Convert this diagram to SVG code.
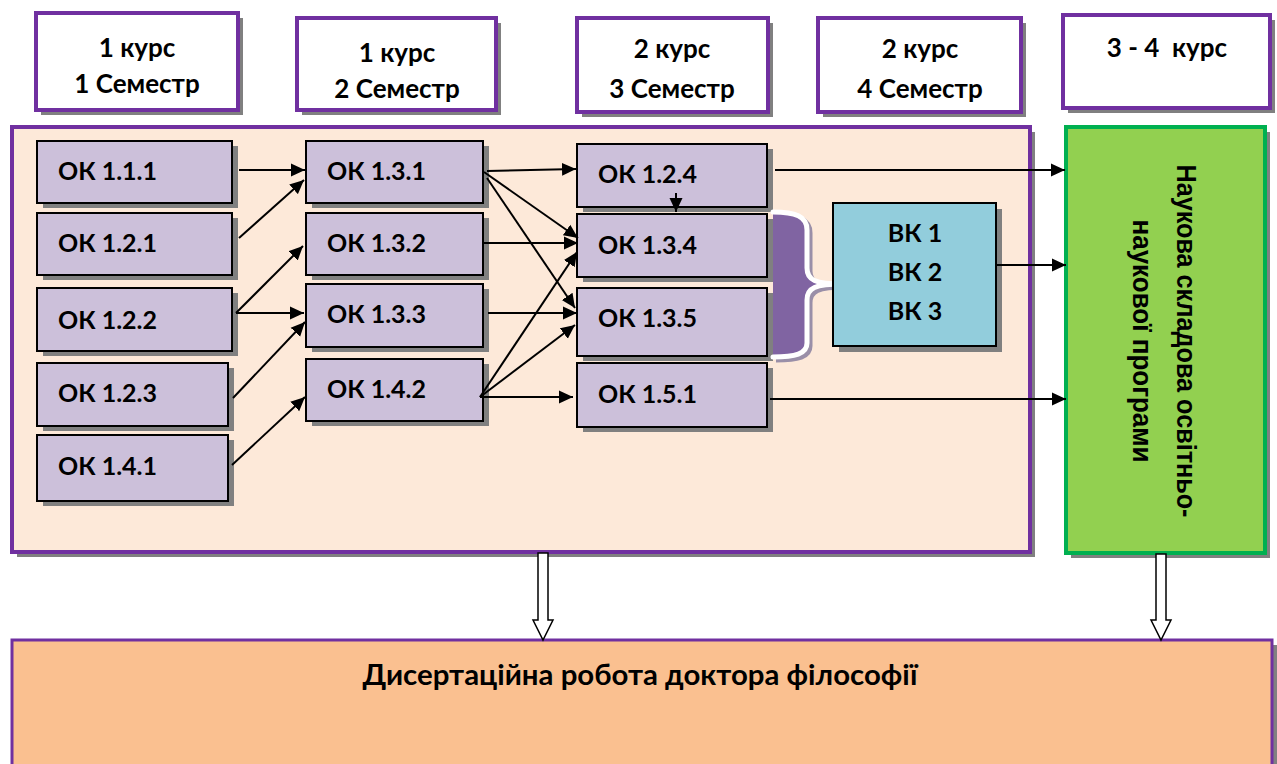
<svg xmlns="http://www.w3.org/2000/svg" width="1277" height="764" viewBox="0 0 1277 764">
<defs>
<style>
.sh{fill:#808080}
.hdr{fill:#ffffff;stroke:#7030A0;stroke-width:4}
.nd{fill:#CCC0DA;stroke:#000;stroke-width:2}
.t{font-family:Lato,"Liberation Sans",sans-serif;font-weight:bold;font-size:25px;fill:#000}
.th{font-size:26px}
.tc{text-anchor:middle}
.c{stroke:#000;stroke-width:2;fill:none;marker-end:url(#ah)}
.hollow{fill:#fff;stroke:#000;stroke-width:1.5}
</style>
<marker id="ah" markerUnits="userSpaceOnUse" markerWidth="15" markerHeight="14" refX="14" refY="7" orient="auto">
<path d="M0,0.5 L14,7 L0,13.5 z" fill="#000"/>
</marker>
</defs>
<rect width="1277" height="764" fill="#fff"/>

<g id="hdr1">
<rect class="sh" x="41" y="18" width="202" height="97"/>
<rect class="hdr" x="36" y="13" width="202" height="97"/>
<text class="t th tc" x="137" y="57">1 курс</text>
<text class="t th tc" x="137" y="93">1 Семестр</text>
</g>
<g id="hdr2">
<rect class="sh" x="302" y="23" width="199" height="92"/>
<rect class="hdr" x="297" y="18" width="199" height="92"/>
<text class="t th tc" x="397" y="62">1 курс</text>
<text class="t th tc" x="397" y="98">2 Семестр</text>
</g>
<g id="hdr3">
<rect class="sh" x="582" y="23" width="191" height="94"/>
<rect class="hdr" x="577" y="18" width="191" height="94"/>
<text class="t th tc" x="672" y="58">2 курс</text>
<text class="t th tc" x="672" y="98">3 Семестр</text>
</g>
<g id="hdr4">
<rect class="sh" x="823" y="23" width="203" height="94"/>
<rect class="hdr" x="818" y="18" width="203" height="94"/>
<text class="t th tc" x="920" y="58">2 курс</text>
<text class="t th tc" x="920" y="98">4 Семестр</text>
</g>
<g id="hdr5">
<rect class="sh" x="1068" y="20" width="207" height="93"/>
<rect class="hdr" x="1063" y="15" width="207" height="93"/>
<text class="t th tc" x="1167" y="57" xml:space="preserve">3 - 4  курс</text>
</g>

<g id="panel">
<rect class="sh" x="17" y="132" width="1018" height="425"/>
<rect x="12" y="127" width="1018" height="425" fill="#FDE9D9" stroke="#7030A0" stroke-width="4"/>
</g>

<g id="green">
<rect class="sh" x="1071" y="132" width="199" height="426"/>
<rect x="1066" y="127" width="199" height="426" fill="#92D050" stroke="#00B050" stroke-width="4"/>
<text transform="translate(1177,341) rotate(90)" text-anchor="middle" font-family="'Liberation Sans',Arial,sans-serif" font-weight="bold" font-size="27" textLength="353" lengthAdjust="spacingAndGlyphs">Наукова складова освітньо-</text>
<text transform="translate(1133,341) rotate(90)" text-anchor="middle" font-family="'Liberation Sans',Arial,sans-serif" font-weight="bold" font-size="27" textLength="243" lengthAdjust="spacingAndGlyphs">наукової програми</text>
</g>

<g id="ok111"><rect class="sh" x="43" y="146" width="195" height="62"/><rect class="nd" x="37" y="141" width="195" height="62"/><text class="t" x="58" y="180">ОК 1.1.1</text></g>
<g id="ok121"><rect class="sh" x="43" y="218" width="195" height="62"/><rect class="nd" x="37" y="213" width="195" height="62"/><text class="t" x="58" y="252">ОК 1.2.1</text></g>
<g id="ok122"><rect class="sh" x="43" y="293" width="195" height="63"/><rect class="nd" x="37" y="288" width="195" height="63"/><text class="t" x="58" y="329">ОК 1.2.2</text></g>
<g id="ok123"><rect class="sh" x="43" y="368" width="191" height="63"/><rect class="nd" x="37" y="363" width="191" height="63"/><text class="t" x="58" y="402">ОК 1.2.3</text></g>
<g id="ok141"><rect class="sh" x="43" y="440" width="191" height="66"/><rect class="nd" x="37" y="435" width="191" height="66"/><text class="t" x="58" y="475">ОК 1.4.1</text></g>

<g id="ok131"><rect class="sh" x="312" y="146" width="177" height="62"/><rect class="nd" x="306" y="141" width="177" height="62"/><text class="t" x="327" y="180">ОК 1.3.1</text></g>
<g id="ok132"><rect class="sh" x="312" y="218" width="177" height="62"/><rect class="nd" x="306" y="213" width="177" height="62"/><text class="t" x="327" y="252">ОК 1.3.2</text></g>
<g id="ok133"><rect class="sh" x="312" y="289" width="177" height="63"/><rect class="nd" x="306" y="284" width="177" height="63"/><text class="t" x="327" y="323">ОК 1.3.3</text></g>
<g id="ok142"><rect class="sh" x="312" y="364" width="177" height="62"/><rect class="nd" x="306" y="359" width="177" height="62"/><text class="t" x="327" y="398">ОК 1.4.2</text></g>

<g id="ok124"><rect class="sh" x="583" y="149" width="190" height="63"/><rect class="nd" x="577" y="144" width="190" height="63"/><text class="t" x="598" y="183">ОК 1.2.4</text></g>
<g id="ok134"><rect class="sh" x="583" y="219" width="190" height="63"/><rect class="nd" x="577" y="214" width="190" height="63"/><text class="t" x="598" y="254">ОК 1.3.4</text></g>
<g id="ok135"><rect class="sh" x="583" y="293" width="190" height="68"/><rect class="nd" x="577" y="288" width="190" height="68"/><text class="t" x="598" y="327">ОК 1.3.5</text></g>
<g id="ok151"><rect class="sh" x="583" y="368" width="190" height="64"/><rect class="nd" x="577" y="363" width="190" height="64"/><text class="t" x="598" y="403">ОК 1.5.1</text></g>

<g id="brace">
<path d="M776,215 C798,215 810,219 810,233 L810,271 C810,283 818,287 846,287 C818,287 810,291 810,303 L810,346 C810,357 798,360 776,360" fill="none" stroke="#9a8fa8" stroke-width="5"/>
<path d="M773,212 C795,212 807,216 807,230 L807,268 C807,280 815,284 843,284 C815,284 807,288 807,300 L807,343 C807,354 795,357 773,357 Z" fill="#8064A2"/>
<path d="M773,212 C795,212 807,216 807,230 L807,268 C807,280 815,284 843,284 C815,284 807,288 807,300 L807,343 C807,354 795,357 773,357" fill="none" stroke="#fff" stroke-width="5" stroke-linecap="round"/>
</g>

<g id="vk">
<rect class="sh" x="839" y="209" width="163" height="143"/>
<rect x="833" y="203" width="163" height="143" fill="#92CDDC" stroke="#000" stroke-width="2"/>
<text class="t tc" x="915" y="242">ВК 1</text>
<text class="t tc" x="915" y="281">ВК 2</text>
<text class="t tc" x="915" y="320">ВК 3</text>
</g>

<g id="bottom">
<rect class="sh" x="17" y="645" width="1260" height="130"/>
<rect x="12" y="640" width="1260" height="130" fill="#FAC090" stroke="#7030A0" stroke-width="3"/>
<text class="t tc" x="640" y="685" style="font-size:28px" textLength="555" lengthAdjust="spacingAndGlyphs">Дисертаційна робота доктора філософії</text>
</g>

<g id="connectors">
<line class="c" x1="239" y1="170" x2="305" y2="170"/>
<line class="c" x1="239" y1="238" x2="304" y2="180"/>
<line class="c" x1="236" y1="313" x2="303" y2="246"/>
<line class="c" x1="236" y1="313" x2="304" y2="313"/>
<line class="c" x1="233" y1="398" x2="305" y2="322"/>
<line class="c" x1="232" y1="465" x2="305" y2="397"/>

<line class="c" x1="487" y1="171" x2="576" y2="169"/>
<line class="c" x1="484" y1="172" x2="578" y2="238"/>
<line class="c" x1="487" y1="178" x2="575" y2="308"/>
<line class="c" x1="483" y1="243" x2="578" y2="243"/>
<line class="c" x1="488" y1="313" x2="577" y2="313"/>
<line class="c" x1="480" y1="397" x2="577" y2="252"/>
<line class="c" x1="480" y1="397" x2="575" y2="325"/>
<line class="c" x1="480" y1="397" x2="573" y2="397"/>

<line class="c" x1="676" y1="193" x2="676" y2="212"/>

<line class="c" x1="775" y1="170" x2="1065" y2="170"/>
<line class="c" x1="996" y1="265" x2="1066" y2="265"/>
<line class="c" x1="770" y1="399" x2="1066" y2="399"/>

<polygon class="hollow" points="538,553 548,553 548,620 553,620 543,640 533,620 538,620"/>
<polygon class="hollow" points="1156,554 1166,554 1166,620 1171,620 1161,640 1151,620 1156,620"/>
</g>
</svg>
